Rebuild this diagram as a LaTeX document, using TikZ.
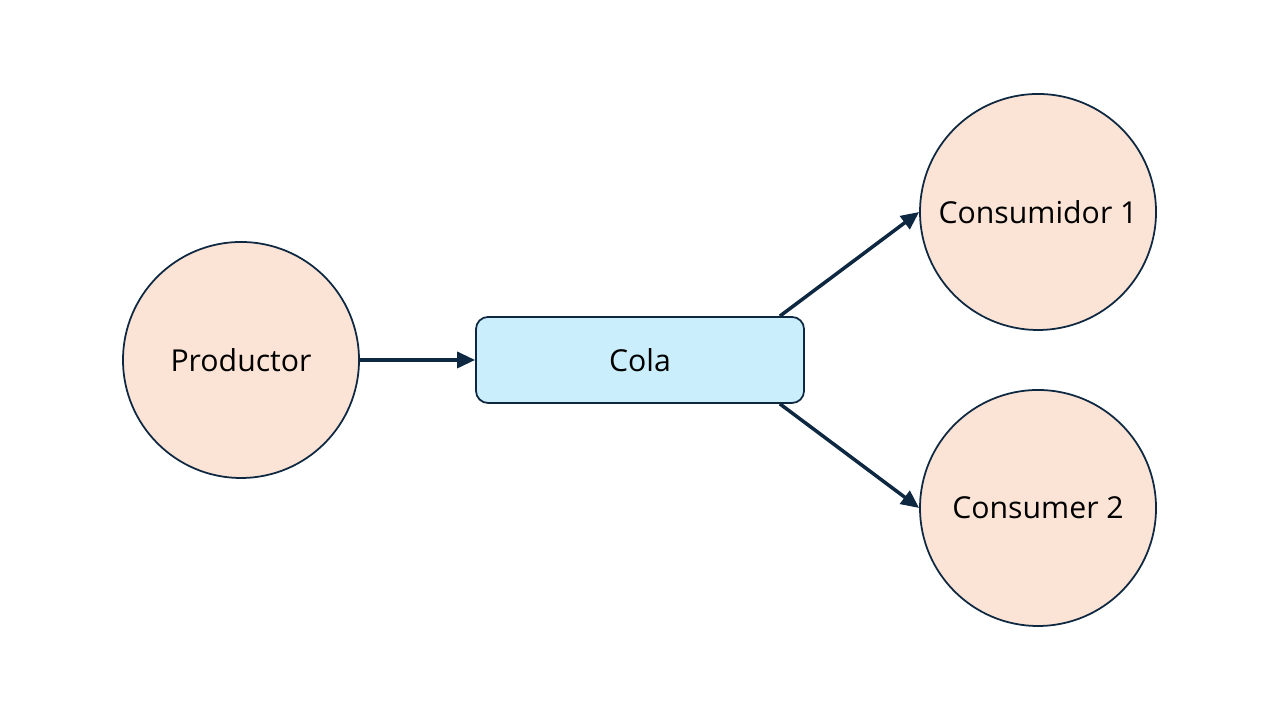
\documentclass[tikz,border=0pt]{standalone}
\usepackage{fontspec}
\setmainfont{Open Sans}
\usepackage{tikz}
\usetikzlibrary{arrows.meta, positioning}
\usepackage{xcolor}
\definecolor{linea}{HTML}{0E2841}
\definecolor{nodo}{HTML}{FBE3D6}
\definecolor{caja}{HTML}{CAEEFB}

\begin{document}
\begin{tikzpicture}

    \useasboundingbox (0,0) rectangle (12.8,7.2);
    \tikzset{
        proceso/.style={circle, draw=linea, fill=nodo, line width=0.5pt, minimum size=2.36cm, inner sep=0pt, font=\fontsize{8.6}{10}\selectfont},
        cola/.style={rectangle, rounded corners=0.12cm, draw=linea, fill=caja, line width=0.5pt, minimum width=3.28cm, minimum height=0.86cm, font=\fontsize{8.6}{10}\selectfont},
        flecha/.style={-{Triangle[length=0.18cm, width=0.16cm]}, draw=linea, line width=1pt}
    }

    \node[proceso] (prod) at (2.41,3.60) {Productor};
    \node[cola] (q) at (6.40,3.60) {Cola};
    \node[proceso] (cons1) at (10.38,5.08) {Consumidor 1};
    \node[proceso] (cons2) at (10.38,2.12) {Consumer 2};

    % salidas de la cola
    \coordinate (qa) at ([xshift=-0.25cm]q.north east);
    \coordinate (qb) at ([xshift=-0.25cm]q.south east);

    \draw[flecha] (prod) -- (q);
    \draw[flecha] (qa) -- (cons1.west);
    \draw[flecha] (qb) -- (cons2.west);
\end{tikzpicture}
\end{document}
